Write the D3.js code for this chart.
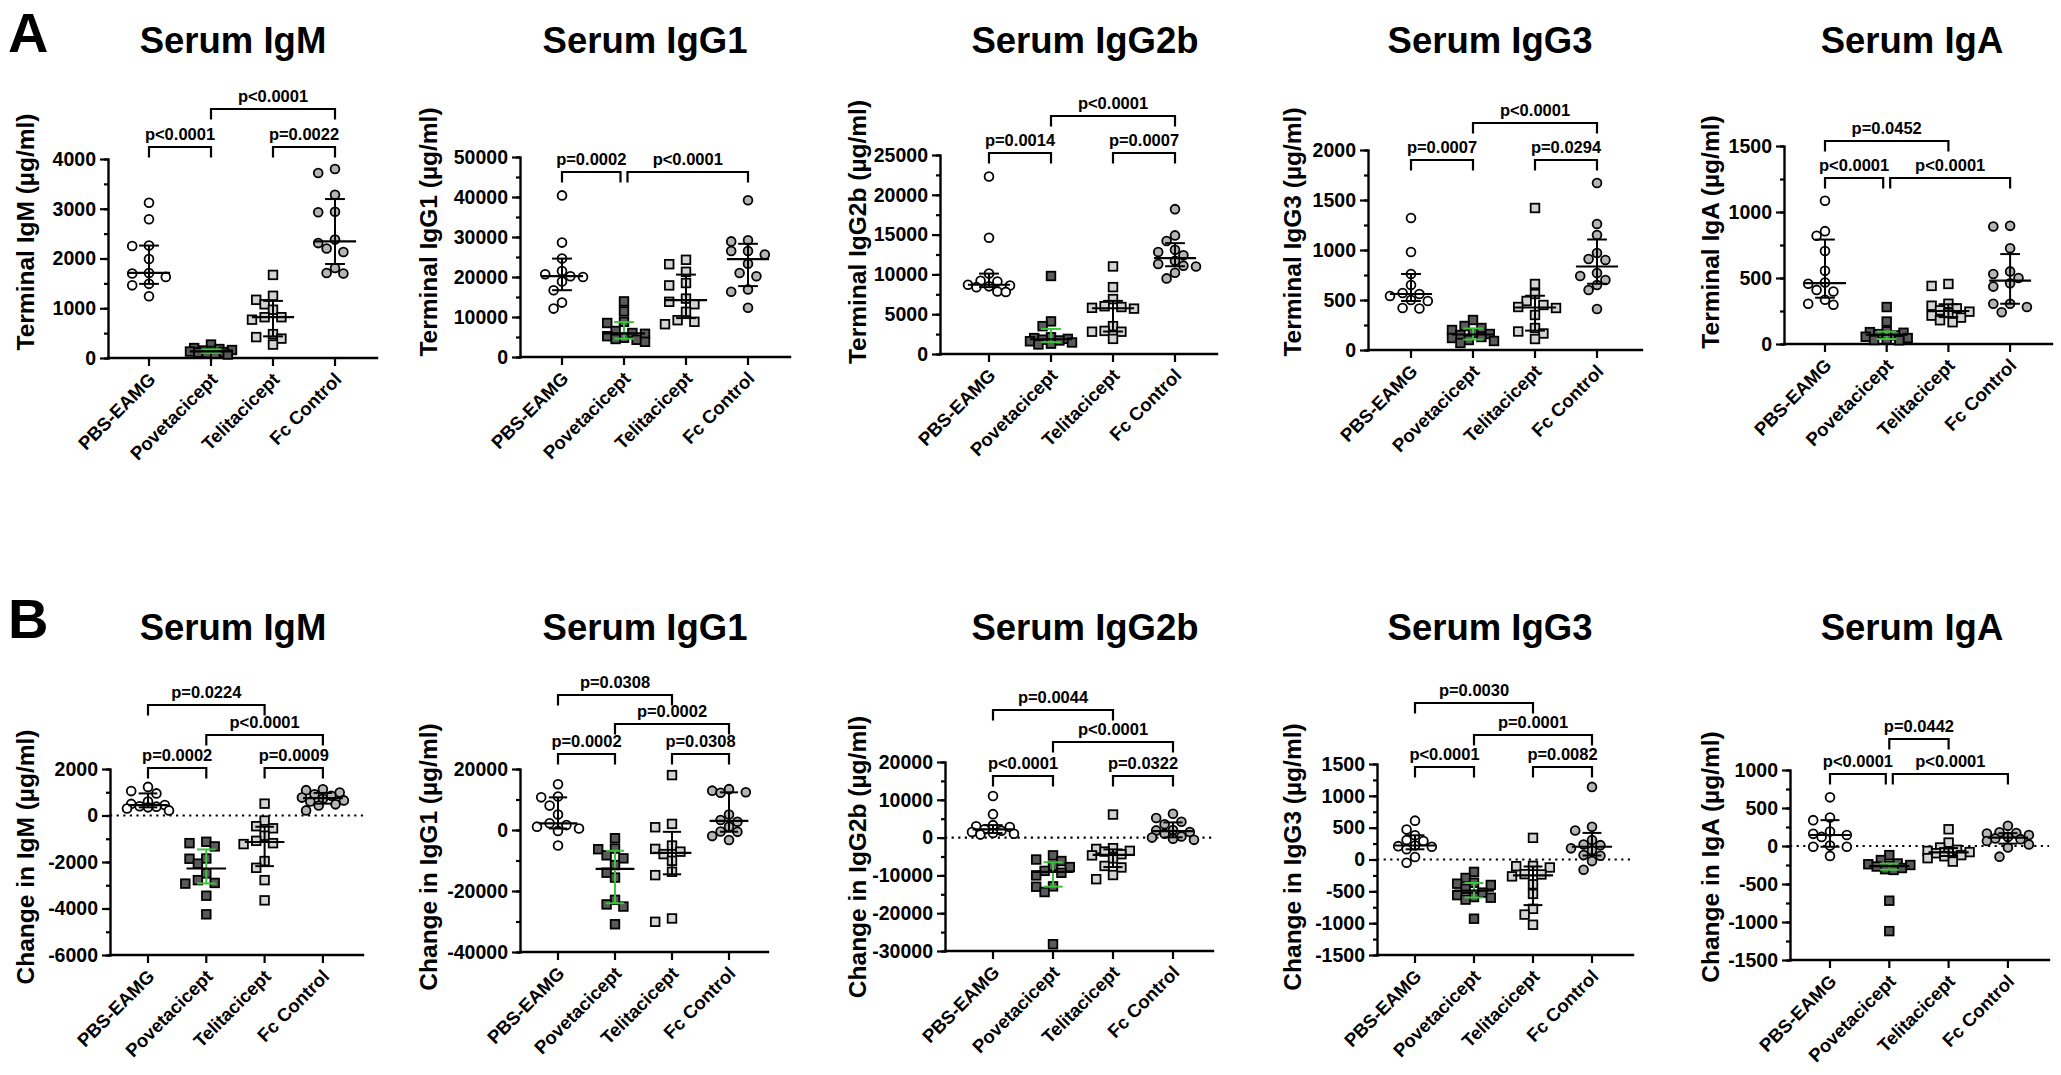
<!DOCTYPE html>
<html>
<head>
<meta charset="utf-8">
<script src="https://cdn.jsdelivr.net/npm/d3@7"></script>
<style>
  body { margin: 0; background: #fff; }
  svg { display: block; font-family: "Liberation Sans", Arial, sans-serif; font-weight: bold; }
</style>
</head>
<body>
<svg id="fig" width="2061" height="1075"></svg>
<script>
const groups = ["PBS-EAMG", "Povetacicept", "Telitacicept", "Fc Control"];
const isotypes = ["IgM", "IgG1", "IgG2b", "IgG3", "IgA"];

// A: terminal serum levels (µg/ml), one array per group
const terminalIgM = [
  [3120, 2790, 2260, 2250, 1990, 1710, 1700, 1630, 1490, 1460, 1240],
  [270, 200, 180, 160, 150, 140, 130, 120, 110, 100, 90, 70],
  [1670, 1250, 1170, 1080, 970, 820, 820, 770, 480, 420, 390, 270],
  [3800, 3720, 3280, 2940, 2930, 2380, 2310, 2200, 2130, 1810, 1710, 1700]
];
const terminalIgG1 = [
  [40400, 28600, 24600, 21500, 20700, 20200, 20000, 18900, 16700, 13600, 12100],
  [13900, 11400, 8800, 8500, 6500, 6000, 5800, 5200, 4800, 4500, 4300, 3800],
  [24300, 23200, 21300, 18500, 17900, 14600, 13800, 13200, 11300, 9200, 8800, 8200],
  [39200, 29200, 28900, 26500, 26500, 25600, 23300, 21000, 20200, 16900, 16300, 12300]
];
const terminalIgG2b = [
  [22300, 14600, 10100, 9200, 9100, 8700, 8600, 8500, 8400, 7850, 7800],
  [9800, 4100, 3500, 2100, 2000, 1900, 1800, 1700, 1600, 1450, 1300, 1200],
  [11000, 8400, 6900, 6000, 5900, 5800, 5700, 3500, 2900, 2800, 2800, 1900],
  [18200, 14900, 14200, 13100, 12800, 12400, 11700, 11300, 11100, 11000, 10200, 9500]
];
const terminalIgG3 = [
  [1320, 980, 760, 650, 570, 560, 540, 500, 490, 420, 415],
  [300, 240, 220, 200, 170, 160, 150, 130, 120, 100, 90, 70],
  [1420, 660, 560, 490, 450, 430, 420, 350, 220, 185, 165, 110],
  [1670, 1260, 1150, 970, 910, 900, 770, 740, 700, 650, 600, 410]
];
const terminalIgA = [
  [1085, 855, 820, 705, 555, 466, 456, 410, 398, 335, 305, 297],
  [280, 170, 95, 90, 85, 75, 65, 55, 45, 35, 30, 28],
  [455, 440, 305, 290, 270, 255, 245, 235, 215, 200, 180, 165],
  [895, 890, 725, 550, 530, 500, 460, 435, 305, 305, 280, 240]
];

// B: change in serum levels (µg/ml)
const changeIgM = [
  [1230, 1050, 950, 600, 500, 450, 400, 380, 350, 300, 220],
  [-1130, -1190, -1330, -1850, -1860, -2070, -2490, -2780, -2900, -2930, -3450, -4250],
  [510, -220, -460, -550, -870, -1090, -1190, -1230, -1960, -2250, -2780, -3650],
  [1130, 1090, 990, 910, 850, 770, 720, 650, 600, 480, 430, 220]
];
const changeIgG1 = [
  [15000, 11000, 10700, 8000, 5100, 2200, 1600, 1100, 500, -300, -5100],
  [-2700, -6100, -6300, -8300, -9300, -11500, -14000, -15600, -22900, -24400, -25100, -30900],
  [18000, 2000, 900, -5100, -6200, -7100, -7900, -10100, -13700, -14800, -29000, -30100],
  [13400, 12900, 12400, 12200, 5100, 3300, 2700, 1100, -500, -600, -2000, -3300]
];
const changeIgG2b = [
  [11000, 6200, 3300, 3000, 2800, 2200, 1800, 1500, 1200, 1000, 800],
  [-4700, -5800, -6200, -7500, -7800, -8800, -9300, -10000, -12900, -13000, -14400, -28200],
  [6100, -2800, -3000, -3500, -3700, -4400, -4700, -5500, -7500, -7900, -9900, -11000],
  [6300, 5200, 4200, 3500, 2000, 1900, 1500, 1000, 300, 0, -300, -600]
];
const changeIgG3 = [
  [610, 470, 380, 305, 290, 220, 210, 200, 160, 40, -50],
  [-195, -290, -365, -380, -400, -460, -520, -560, -590, -600, -630, -930],
  [340, -100, -105, -125, -230, -235, -265, -390, -540, -775, -865, -1025],
  [1140, 515, 455, 305, 235, 225, 175, 145, 70, 60, -25, -160]
];
const changeIgA = [
  [640, 375, 340, 190, 160, 145, 120, 5, -10, -10, -130],
  [-120, -185, -230, -240, -250, -260, -270, -290, -305, -315, -720, -1120],
  [220, 45, -20, -50, -65, -80, -90, -95, -120, -135, -160, -205],
  [265, 180, 170, 165, 145, 120, 100, 90, 65, 20, -20, -140]
];

const terminalSets = [terminalIgM, terminalIgG1, terminalIgG2b, terminalIgG3, terminalIgA];
const changeSets = [changeIgM, changeIgG1, changeIgG2b, changeIgG3, changeIgA];

const terminalDomains = [[0, 4000], [0, 50000], [0, 25000], [0, 2000], [0, 1500]];
const terminalTickSteps = [1000, 10000, 5000, 500, 500];
const changeDomains = [[-6000, 2000], [-40000, 20000], [-30000, 20000], [-1500, 1500], [-1500, 1000]];
const changeTickSteps = [2000, 20000, 10000, 500, 500];

// comparisons: [group a, group b, label, bracket level]
const terminalStats = [
  [[0, 1, "p<0.0001", 1], [2, 3, "p=0.0022", 1], [1, 3, "p<0.0001", 2]],
  [[0, 1, "p=0.0002", 1], [1, 3, "p<0.0001", 1]],
  [[0, 1, "p=0.0014", 1], [2, 3, "p=0.0007", 1], [1, 3, "p<0.0001", 2]],
  [[0, 1, "p=0.0007", 1], [2, 3, "p=0.0294", 1], [1, 3, "p<0.0001", 2]],
  [[0, 1, "p<0.0001", 1], [1, 3, "p<0.0001", 1], [0, 2, "p=0.0452", 2]]
];
const changeStats = [
  [[0, 1, "p=0.0002", 1], [2, 3, "p=0.0009", 1], [1, 3, "p<0.0001", 2], [0, 2, "p=0.0224", 3]],
  [[0, 1, "p=0.0002", 1], [2, 3, "p=0.0308", 1], [1, 3, "p=0.0002", 2], [0, 2, "p=0.0308", 3]],
  [[0, 1, "p<0.0001", 1], [2, 3, "p=0.0322", 1], [1, 3, "p<0.0001", 2], [0, 2, "p=0.0044", 3]],
  [[0, 1, "p<0.0001", 1], [2, 3, "p=0.0082", 1], [1, 3, "p=0.0001", 2], [0, 2, "p=0.0030", 3]],
  [[0, 1, "p<0.0001", 1], [1, 3, "p<0.0001", 1], [1, 2, "p=0.0442", 2]]
];
const changeZeroLine = [true, false, true, true, true];

// layout (pixels)
const rowA = {
  letter: "A", letterY: 52, titleY: 53, labelY: 232, yLabel: iso => `Terminal ${iso} (µg/ml)`,
  panels: [
    { axisX: 108, xEnd: 377, cat0: 149, step: 62, yTop: 159, yBot: 358, levels: [147, 109], titleX: 233, labelX: 25 },
    { axisX: 520, xEnd: 790, cat0: 562, step: 62, yTop: 157, yBot: 357, levels: [172], titleX: 645, labelX: 428 },
    { axisX: 940, xEnd: 1217, cat0: 989, step: 62, yTop: 155, yBot: 354, levels: [153, 116], titleX: 1085, labelX: 857 },
    { axisX: 1368, xEnd: 1642, cat0: 1411, step: 62, yTop: 150, yBot: 350, levels: [160, 123], titleX: 1490, labelX: 1292 },
    { axisX: 1784, xEnd: 2052, cat0: 1825, step: 61.7, yTop: 146, yBot: 344, levels: [178, 141], titleX: 1912, labelX: 1710 }
  ]
};
const rowB = {
  letter: "B", letterY: 638, titleY: 640, labelY: 857, yLabel: iso => `Change in ${iso} (µg/ml)`,
  panels: [
    { axisX: 110, xEnd: 363, cat0: 148, step: 58.3, yTop: 769, yBot: 955, levels: [768, 735, 705], titleX: 233, labelX: 25 },
    { axisX: 520, xEnd: 768, cat0: 558, step: 57, yTop: 769, yBot: 952, levels: [754, 724, 695], titleX: 645, labelX: 428 },
    { axisX: 945, xEnd: 1213, cat0: 993, step: 60, yTop: 762, yBot: 951, levels: [776, 742, 710], titleX: 1085, labelX: 857 },
    { axisX: 1377, xEnd: 1633, cat0: 1415, step: 59, yTop: 764, yBot: 955, levels: [767, 735, 703], titleX: 1490, labelX: 1292 },
    { axisX: 1790, xEnd: 2049, cat0: 1830, step: 59.3, yTop: 770, yBot: 960, levels: [774, 739], titleX: 1912, labelX: 1710 }
  ]
};

const fills = ["#ffffff", "#5a5a5a", "#d4d4d4", "#b5b5b5"];
const shapes = ["circle", "square", "square", "circle"];
const barColors = ["#000", "#3cc43c", "#000", "#000"];
const legLen = 10.5;

const svg = d3.select("#fig");

// GraphPad style percentile: position p*(n+1)
const pct = (sorted, p) => {
  const n = sorted.length, h = p * (n + 1);
  if (h <= 1) return sorted[0];
  if (h >= n) return sorted[n - 1];
  const lo = Math.floor(h);
  return sorted[lo - 1] + (h - lo) * (sorted[lo] - sorted[lo - 1]);
};

// spread overlapping points sideways inside a limited width, overlapping when crowded
const swarm = (vals, y, cx, s, d) => {
  const placed = [];
  const slots = [0, -1, 1, -2, 2];
  const fine = d3.range(-2.5, 2.51, 0.5);
  const minDist = (ox, py) => d3.min(placed, q => Math.hypot(q.x - ox, q.y - py)) ?? Infinity;
  vals.slice().sort((a, b) => b - a).forEach(v => {
    const py = y(v);
    let px = null;
    for (const k of slots) {
      if (minDist(cx + k * s, py) >= d) { px = cx + k * s; break; }
    }
    if (px === null) {
      const best = d3.greatest(fine, k => minDist(cx + k * s, py) - Math.abs(k) * 0.01);
      px = cx + best * s;
    }
    placed.push({ x: px, y: py });
  });
  return placed;
};

const drawPanel = (row, p, iso, sets, domain, step, stats, zeroLine) => {
  const g = svg.append("g");
  const y = d3.scaleLinear().domain(domain).range([p.yBot, p.yTop]);
  const x = d3.scalePoint().domain(groups).range([p.cat0, p.cat0 + 3 * p.step]);

  const major = d3.range(domain[0], domain[1] + 1e-6, step);
  const minor = d3.range(domain[0], domain[1] + 1e-6, step / 2);

  // y axis
  g.append("g")
    .attr("transform", `translate(${p.axisX},0)`)
    .call(d3.axisLeft(y).tickValues(minor).tickSize(4).tickFormat(""))
    .call(s => s.select(".domain").remove())
    .selectAll("line").attr("stroke-width", 2.2);
  const ya = g.append("g")
    .attr("transform", `translate(${p.axisX},0)`)
    .call(d3.axisLeft(y).tickValues(major).tickSize(8).tickSizeOuter(0).tickPadding(4).tickFormat(d => String(d)));
  ya.attr("font-family", null).attr("font-size", null);
  ya.select(".domain").attr("stroke-width", 2.4).attr("stroke-linecap", "square");
  ya.selectAll("line").attr("stroke-width", 2.2);
  ya.selectAll("text").attr("font-size", 19.5).attr("fill", "#000");

  // x axis
  g.append("line")
    .attr("x1", p.axisX).attr("x2", p.xEnd).attr("y1", p.yBot).attr("y2", p.yBot)
    .attr("stroke", "#000").attr("stroke-width", 2.4).attr("stroke-linecap", "square");
  g.selectAll(".xt").data(groups).join("line")
    .attr("x1", d => x(d)).attr("x2", d => x(d))
    .attr("y1", p.yBot).attr("y2", p.yBot + 8)
    .attr("stroke", "#000").attr("stroke-width", 2.2);
  g.selectAll(".xl").data(groups).join("text")
    .attr("transform", d => `translate(${x(d) + 3},${p.yBot + 18}) rotate(-45)`)
    .attr("text-anchor", "end").attr("dy", "0.35em")
    .attr("font-size", 18.5).text(d => d);

  if (zeroLine) {
    g.append("line")
      .attr("x1", p.axisX).attr("x2", p.xEnd).attr("y1", y(0)).attr("y2", y(0))
      .attr("stroke", "#000").attr("stroke-width", 2.2).attr("stroke-dasharray", "2.2,4.4");
  }

  // points
  sets.forEach((vals, gi) => {
    const pts = swarm(vals, y, x(groups[gi]), 8.4, 9.5);
    const sel = g.append("g");
    if (shapes[gi] === "circle") {
      sel.selectAll("circle").data(pts).join("circle")
        .attr("cx", d => d.x).attr("cy", d => d.y).attr("r", 4.4);
    } else {
      sel.selectAll("rect").data(pts).join("rect")
        .attr("x", d => d.x - 4.3).attr("y", d => d.y - 4.3).attr("width", 8.6).attr("height", 8.6);
    }
    sel.attr("fill", fills[gi]).attr("stroke", "#000").attr("stroke-width", 1.8);
  });

  // median with interquartile range
  sets.forEach((vals, gi) => {
    const s = vals.slice().sort((a, b) => a - b);
    const cx = x(groups[gi]);
    const med = pct(s, 0.5), q1 = pct(s, 0.25), q3 = pct(s, 0.75);
    const wm = p.step * 0.34, wc = p.step * 0.16;
    const eb = g.append("g").attr("stroke", barColors[gi]).attr("stroke-width", 2);
    eb.append("line").attr("x1", cx).attr("x2", cx).attr("y1", y(q1)).attr("y2", y(q3));
    eb.append("line").attr("x1", cx - wc).attr("x2", cx + wc).attr("y1", y(q1)).attr("y2", y(q1));
    eb.append("line").attr("x1", cx - wc).attr("x2", cx + wc).attr("y1", y(q3)).attr("y2", y(q3));
    g.append("line").attr("x1", cx - wm).attr("x2", cx + wm).attr("y1", y(med)).attr("y2", y(med))
      .attr("stroke", "#000").attr("stroke-width", 2.2);
  });

  // significance brackets
  stats.forEach(st => {
    const [a, b, label, lvl] = st;
    let x1 = x(groups[a]), x2 = x(groups[b]);
    if (stats.some(o => o !== st && o[3] === lvl && o[0] === b)) x2 -= 3.5;
    if (stats.some(o => o !== st && o[3] === lvl && o[1] === a)) x1 += 3.5;
    const ly = p.levels[lvl - 1];
    g.append("path")
      .attr("d", `M${x1},${ly + legLen}V${ly}H${x2}V${ly + legLen}`)
      .attr("fill", "none").attr("stroke", "#000").attr("stroke-width", 2.2);
    g.append("text")
      .attr("x", (x1 + x2) / 2).attr("y", ly - 7)
      .attr("text-anchor", "middle").attr("font-size", 16.5).text(label);
  });

  // title and y label
  g.append("text").attr("x", p.titleX).attr("y", row.titleY)
    .attr("text-anchor", "middle").attr("font-size", 36.5).text(`Serum ${iso}`);
  g.append("text")
    .attr("transform", `translate(${p.labelX},${row.labelY}) rotate(-90)`)
    .attr("text-anchor", "middle").attr("dy", "0.35em")
    .attr("font-size", 24.5).text(row.yLabel(iso));
};

isotypes.forEach((iso, i) => {
  drawPanel(rowA, rowA.panels[i], iso, terminalSets[i], terminalDomains[i], terminalTickSteps[i], terminalStats[i], false);
  drawPanel(rowB, rowB.panels[i], iso, changeSets[i], changeDomains[i], changeTickSteps[i], changeStats[i], changeZeroLine[i]);
});

[rowA, rowB].forEach(row => {
  svg.append("text").attr("x", 8).attr("y", row.letterY)
    .attr("font-size", 56).text(row.letter);
});
</script>
</body>
</html>
